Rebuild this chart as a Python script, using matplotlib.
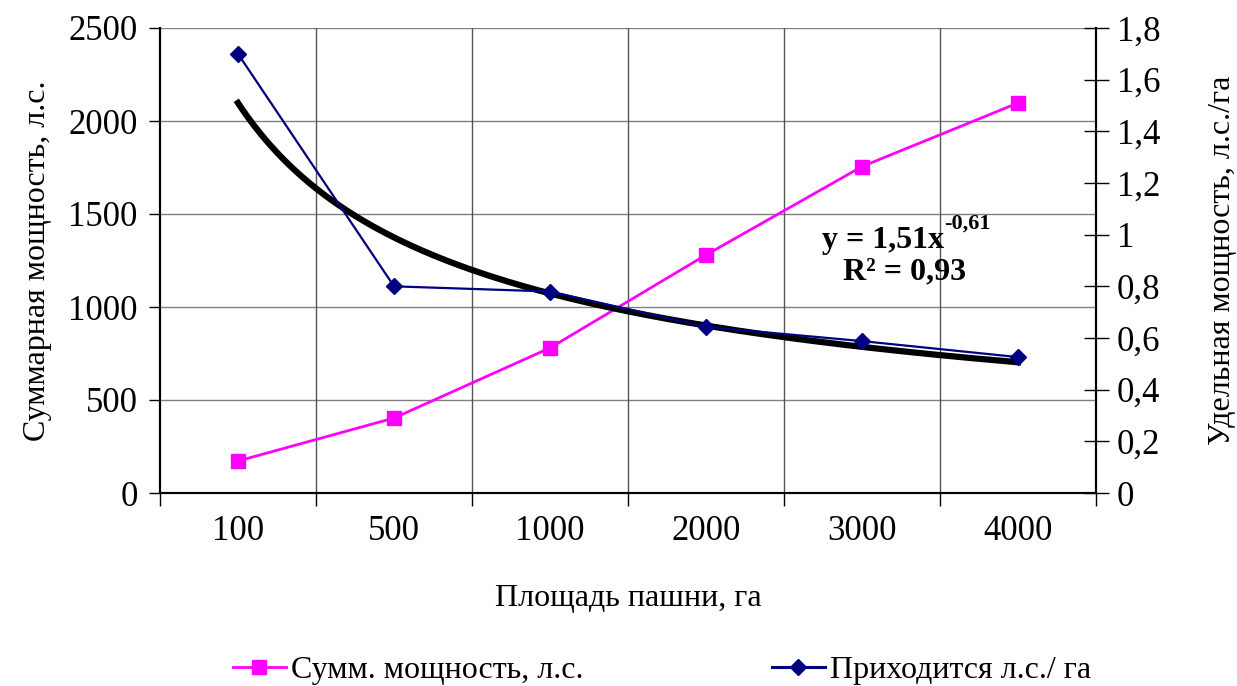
import numpy as np
import matplotlib.pyplot as plt
from matplotlib.lines import Line2D
from matplotlib.ticker import FixedLocator, FuncFormatter

plt.rcParams['font.family'] = ['Liberation Serif', 'DejaVu Serif']

# data
areas = ['100', '500', '1000', '2000', '3000', '4000']
total_power = [172, 403, 780, 1280, 1755, 2097]          # л.с.
specific_power = [1.70, 0.80, 0.78, 0.643, 0.588, 0.526]  # л.с./га
trend_a, trend_b = 1.51, -0.61                          # power trend from chart

x = np.arange(1, len(areas) + 1)

fig = plt.figure(figsize=(12.37, 6.86), dpi=100)
ax = fig.add_axes([160 / 1237, 1 - 493 / 686, 936 / 1237, 465 / 686])
ax2 = ax.twinx()

ax.set_xlim(0.5, len(areas) + 0.5)
ax.set_ylim(0, 2500)
ax2.set_ylim(0, 1.8)

# grid: horizontal at value ticks, vertical at category boundaries
for v in range(500, 2501, 500):
    ax.axhline(v, color='#808080', lw=1, zorder=0)
for b in np.arange(1.5, len(areas), 1.0):
    ax.axvline(b, color='#555555', lw=1, zorder=0)

ax.plot(x, total_power, color='#ff00ff', lw=2, marker='s', ms=10.5,
        zorder=3, clip_on=False)

xs = np.linspace(1, len(areas), 200)
ax2.plot(xs, trend_a * xs ** trend_b, color='black', lw=4.5, zorder=2)
ax2.plot(x, specific_power, color='#000080', lw=1.6, marker='D', ms=8.5,
         zorder=3, clip_on=False)

ax.set_xticks(x)
ax.set_xticklabels(areas)
ax.xaxis.set_minor_locator(FixedLocator(np.arange(0.5, len(areas) + 1, 1.0)))
ax.tick_params(axis='x', which='major', length=0, pad=16, labelsize=25)
ax.tick_params(axis='x', which='minor', length=9, width=1, direction='out')
ax.set_yticks(range(0, 2501, 500))
ax.tick_params(axis='y', length=8, width=1, direction='out', labelsize=25, pad=8)


def comma(v, p):
    s = '%.1f' % v
    if s.endswith('.0'):
        s = s[:-2]
    return s.replace('.', ',')


ax2.set_yticks(np.arange(0, 1.81, 0.2))
ax2.yaxis.set_major_formatter(FuncFormatter(comma))
ax2.tick_params(axis='y', length=18, width=1, direction='inout', labelsize=25, pad=6)

for a in (ax, ax2):
    a.spines['top'].set_visible(False)
    for s in ('left', 'right', 'bottom'):
        a.spines[s].set_linewidth(1.5)

ax.set_ylabel('Суммарная мощность, л.с.', fontsize=23, labelpad=12)
ax2.set_ylabel('Удельная мощность, л.с./га', fontsize=23, labelpad=34)
ax.set_xlabel('Площадь пашни, га', fontsize=23, labelpad=26)

# trendline equation
eq = ax2.text(4.744, 0.979, 'y = 1,51x', fontsize=23, fontweight='bold',
              ha='left', va='center', zorder=5)
ax2.annotate('-0,61', xy=(1, 0.72), xycoords=eq, fontsize=16,
             fontweight='bold', ha='left', va='bottom', zorder=5)
ax2.text(5.276, 0.855, 'R² = 0,93', fontsize=23, fontweight='bold',
         ha='center', va='center', zorder=5)

handles = [
    Line2D([], [], color='#ff00ff', lw=2, marker='s', ms=10),
    Line2D([], [], color='#000080', lw=2.2, marker='D', ms=8),
]
fig.legend(handles, ['Сумм. мощность, л.с.', 'Приходится л.с./ га'],
           loc='center', bbox_to_anchor=(0.535, 1 - 670 / 686), ncol=2,
           frameon=False, fontsize=23, columnspacing=5.9, handlelength=1.66,
           handletextpad=0.15, borderaxespad=0)

fig.savefig('out.png', dpi=100)
